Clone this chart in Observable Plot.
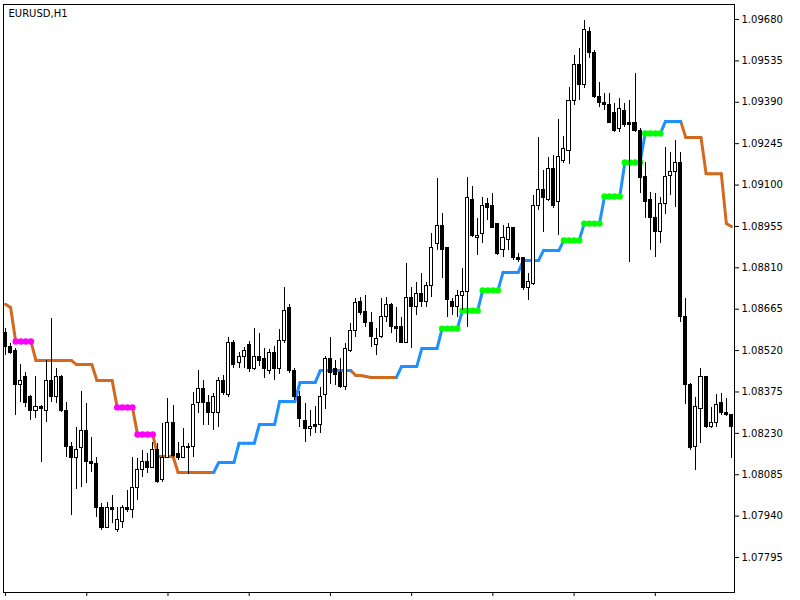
<!DOCTYPE html>
<html><head><meta charset="utf-8">
<script src="https://cdn.jsdelivr.net/npm/d3@7"></script>
<script src="https://cdn.jsdelivr.net/npm/@observablehq/plot@0.6"></script>
<style>html,body{margin:0;padding:0;background:#fff;} #chart{width:800px;height:600px;}</style>
</head><body><div id="chart"></div>
<script>
const title = "EURUSD,H1";

const open = [
1.08580,1.08534,1.08520,1.08398,1.08426,1.08359,1.08310,1.08321,1.08310,1.08412,
1.08356,1.08429,1.08307,1.08181,1.08145,1.08177,1.08237,1.08128,1.08124,1.07970,
1.07900,1.07967,1.07890,1.07918,1.07970,1.07960,1.08040,1.08103,1.08128,1.08110,
1.08170,1.08065,1.08145,1.08268,1.08156,1.08145,1.08181,1.08181,1.08335,1.08384,
1.08338,1.08303,1.08303,1.08415,1.08363,1.08548,1.08478,1.08496,1.08538,1.08457,
1.08499,1.08492,1.08450,1.08513,1.08457,1.08555,1.08668,1.08450,1.08359,1.08275,
1.08247,1.08261,1.08258,1.08363,1.08492,1.08457,1.08440,1.08391,1.08520,1.08590,
1.08689,1.08654,1.08618,1.08538,1.08566,1.08636,1.08678,1.08604,1.08604,1.08548,
1.08703,1.08671,1.08720,1.08689,1.08748,1.08892,1.08955,1.08878,1.08689,1.08671,
1.08713,1.08727,1.09049,1.08913,1.08930,1.09035,1.09025,1.08965,1.08871,1.08906,
1.08948,1.08843,1.08843,1.08738,1.08755,1.09025,1.09084,1.09049,1.09155,1.09042,
1.09186,1.09221,1.09396,1.09519,1.09449,1.09635,1.09564,1.09410,1.09386,1.09379,
1.09354,1.09298,1.09361,1.09316,1.09316,1.09291,1.09127,1.09049,1.08983,1.08937,
1.09035,1.09130,1.09144,1.09179,1.08636,1.08401,1.08181,1.08317,1.08426,1.08251,
1.08265,1.08335,1.08300,1.08293];
const high = [
1.08597,1.08545,1.08527,1.08471,1.08443,1.08363,1.08429,1.08328,1.08485,1.08633,
1.08457,1.08433,1.08338,1.08198,1.08251,1.08377,1.08335,1.08216,1.08145,1.07984,
1.07988,1.08012,1.07970,1.07977,1.08030,1.08145,1.08142,1.08170,1.08159,1.08198,
1.08195,1.08265,1.08352,1.08328,1.08198,1.08247,1.08195,1.08373,1.08450,1.08415,
1.08363,1.08370,1.08426,1.08433,1.08566,1.08555,1.08513,1.08531,1.08552,1.08597,
1.08580,1.08527,1.08524,1.08534,1.08594,1.08741,1.08682,1.08457,1.08377,1.08335,
1.08310,1.08324,1.08391,1.08499,1.08566,1.08485,1.08492,1.08545,1.08615,1.08703,
1.08706,1.08713,1.08654,1.08597,1.08703,1.08706,1.08685,1.08671,1.08636,1.08825,
1.08741,1.08759,1.08790,1.08759,1.08930,1.09123,1.09000,1.08878,1.08703,1.08731,
1.08808,1.09127,1.09095,1.08983,1.09056,1.09053,1.09070,1.08965,1.08958,1.08965,
1.08951,1.08860,1.08846,1.08790,1.09063,1.09267,1.09151,1.09197,1.09204,1.09330,
1.09270,1.09442,1.09554,1.09579,1.09677,1.09652,1.09571,1.09459,1.09421,1.09421,
1.09386,1.09403,1.09386,1.09396,1.09491,1.09298,1.09179,1.09074,1.09070,1.09056,
1.09232,1.09214,1.09256,1.09214,1.08703,1.08405,1.08356,1.08457,1.08429,1.08321,
1.08366,1.08370,1.08352,1.08296];
const low = [
1.08503,1.08506,1.08293,1.08338,1.08321,1.08275,1.08282,1.08128,1.08268,1.08338,
1.08335,1.08303,1.08145,1.07942,1.08033,1.08040,1.08054,1.08093,1.07935,1.07890,
1.07897,1.07914,1.07883,1.07897,1.07953,1.07932,1.07995,1.08075,1.08089,1.08107,
1.08054,1.08058,1.08142,1.08145,1.08135,1.08142,1.08086,1.08145,1.08300,1.08258,
1.08258,1.08240,1.08251,1.08363,1.08356,1.08457,1.08457,1.08457,1.08443,1.08450,
1.08464,1.08422,1.08436,1.08415,1.08436,1.08545,1.08440,1.08345,1.08251,1.08198,
1.08219,1.08230,1.08230,1.08314,1.08401,1.08398,1.08387,1.08380,1.08513,1.08566,
1.08643,1.08601,1.08531,1.08503,1.08562,1.08618,1.08580,1.08548,1.08545,1.08545,
1.08527,1.08643,1.08671,1.08671,1.08706,1.08871,1.08773,1.08636,1.08643,1.08636,
1.08661,1.08601,1.08916,1.08853,1.08895,1.08976,1.08948,1.08853,1.08846,1.08871,
1.08836,1.08829,1.08731,1.08696,1.08748,1.09011,1.08934,1.09042,1.09018,1.08923,
1.09176,1.09172,1.09379,1.09396,1.09438,1.09543,1.09403,1.09372,1.09361,1.09316,
1.09284,1.09284,1.09302,1.08829,1.09284,1.09070,1.08983,1.08871,1.08846,1.08895,
1.08997,1.09063,1.09021,1.08618,1.08331,1.08170,1.08100,1.08195,1.08247,1.08247,
1.08251,1.08293,1.08289,1.08142];
const close = [
1.08531,1.08513,1.08398,1.08412,1.08338,1.08310,1.08321,1.08314,1.08412,1.08356,
1.08429,1.08307,1.08181,1.08145,1.08170,1.08237,1.08128,1.08124,1.07970,1.07897,
1.07967,1.07963,1.07925,1.07970,1.07960,1.08040,1.08103,1.08128,1.08110,1.08170,
1.08058,1.08145,1.08268,1.08152,1.08145,1.08181,1.08177,1.08331,1.08384,1.08335,
1.08303,1.08356,1.08415,1.08370,1.08548,1.08468,1.08496,1.08520,1.08457,1.08499,
1.08485,1.08454,1.08513,1.08457,1.08555,1.08660,1.08450,1.08359,1.08279,1.08247,
1.08254,1.08254,1.08359,1.08492,1.08440,1.08433,1.08391,1.08527,1.08590,1.08685,
1.08650,1.08615,1.08566,1.08562,1.08636,1.08678,1.08601,1.08597,1.08548,1.08703,
1.08671,1.08720,1.08689,1.08748,1.08881,1.08955,1.08871,1.08696,1.08671,1.08710,
1.08727,1.09053,1.08923,1.08923,1.09028,1.09021,1.08951,1.08860,1.08913,1.08948,
1.08843,1.08836,1.08738,1.08759,1.09028,1.09081,1.09053,1.09155,1.09028,1.09197,
1.09228,1.09396,1.09519,1.09449,1.09642,1.09564,1.09407,1.09389,1.09379,1.09319,
1.09291,1.09365,1.09309,1.09309,1.09291,1.09123,1.09042,1.08983,1.08937,1.09032,
1.09127,1.09144,1.09179,1.08636,1.08398,1.08177,1.08321,1.08426,1.08251,1.08265,
1.08331,1.08300,1.08293,1.08251];

// step trailing line, one value per bar
const stepLine = [
1.08682,1.08671,1.08552,1.08552,1.08552,1.08552,1.08485,1.08485,1.08485,1.08485,
1.08485,1.08485,1.08485,1.08485,1.08471,1.08471,1.08471,1.08471,1.08415,1.08415,
1.08415,1.08415,1.08321,1.08321,1.08321,1.08321,1.08226,1.08226,1.08226,1.08226,
1.08149,1.08149,1.08149,1.08149,1.08093,1.08093,1.08093,1.08093,1.08093,1.08093,
1.08093,1.08093,1.08128,1.08128,1.08128,1.08128,1.08195,1.08195,1.08195,1.08195,
1.08261,1.08261,1.08261,1.08261,1.08342,1.08342,1.08342,1.08342,1.08408,1.08408,
1.08408,1.08408,1.08450,1.08450,1.08450,1.08450,1.08450,1.08450,1.08450,1.08433,
1.08433,1.08429,1.08426,1.08426,1.08426,1.08426,1.08426,1.08426,1.08464,1.08464,
1.08464,1.08464,1.08527,1.08527,1.08527,1.08527,1.08597,1.08597,1.08597,1.08597,
1.08660,1.08660,1.08660,1.08660,1.08731,1.08731,1.08731,1.08731,1.08794,1.08794,
1.08794,1.08794,1.08836,1.08836,1.08836,1.08836,1.08871,1.08871,1.08871,1.08871,
1.08906,1.08906,1.08906,1.08906,1.08965,1.08965,1.08965,1.08965,1.09060,1.09060,
1.09060,1.09060,1.09179,1.09179,1.09179,1.09179,1.09281,1.09281,1.09281,1.09281,
1.09323,1.09323,1.09323,1.09323,1.09267,1.09267,1.09267,1.09267,1.09140,1.09140,
1.09140,1.09140,1.08965,1.08955];

// d = falling (orange), u = rising (blue)
const trend = [
"dddddddddd","dddddddddd","dddddddddd","dddddddddd","dduuuuuuuu",
"uuuuuuuuuu","uuuuuuuuud","dddddddduu","uuuuuuuuuu","uuuuuuuuuu",
"uuuuuuuuuu","uuuuuuuuuu","uuuuuuuuuu","uuuudddddd","dddd"].join("").split("");

// m = magenta dots, l = lime dots, - = none
const signal = [
"--mmmm----","----------","--mmmmmmmm","----------","----------",
"----------","----------","----------","------llll","llllllll--",
"----------","llllllllll","llllllllll","----------","----"].join("").split("");

const priceTicks = [1.07795,1.07940,1.08085,1.08230,1.08375,1.08520,1.08665,1.08810,1.08955,1.09100,1.09245,1.09390,1.09535,1.09680];
const timeTickBars = [0,16,32,48,64,80,96,112,128];

const colors = {d: "#D2691E", u: "#1E90FF", m: "#FF00FF", l: "#00FF00"};

const bars = open.map((o, i) => ({i, open: o, high: high[i], low: low[i], close: close[i], line: stepLine[i], trend: trend[i], signal: signal[i]}));
const bull = bars.filter(d => d.close >= d.open);
const bear = bars.filter(d => d.close < d.open);
const segs = bars.slice(1).map(b => ({i0: b.i - 1, v0: stepLine[b.i - 1], i1: b.i, v1: b.line, trend: b.trend}));
const segsDown = segs.filter(s => s.trend === "d");
const segsUp = segs.filter(s => s.trend === "u");
const dotsM = bars.filter(d => d.signal === "m");
const dotsL = bars.filter(d => d.signal === "l");

const halfBody = 0.3;

const chart = Plot.plot({
  width: 800,
  height: 600,
  marginLeft: 3,
  marginRight: 66,
  marginTop: 4,
  marginBottom: 8,
  style: {background: "white", fontFamily: "'DejaVu Sans', sans-serif", fontSize: "10px", color: "black", overflow: "visible"},
  x: {type: "linear", domain: [-0.4, 143.6], axis: "bottom", ticks: timeTickBars, tickSize: 4, tickFormat: () => "", label: null},
  y: {type: "linear", domain: [1.076724, 1.097326], axis: "right", ticks: priceTicks, tickFormat: d => d3.format(".5f")(d), tickSize: 4, tickPadding: 3, label: null},
  marks: [
    Plot.link(segsDown, {x1: "i0", y1: "v0", x2: "i1", y2: "v1", stroke: colors.d, strokeWidth: 3, strokeLinecap: "round"}),
    Plot.link(segsUp, {x1: "i0", y1: "v0", x2: "i1", y2: "v1", stroke: colors.u, strokeWidth: 3, strokeLinecap: "round"}),
    Plot.dot(dotsM, {x: "i", y: "line", r: 3.2, fill: colors.m, stroke: "none"}),
    Plot.dot(dotsL, {x: "i", y: "line", r: 3.2, fill: colors.l, stroke: "none"}),
    Plot.ruleX(bars, {x: "i", y1: "low", y2: "high", stroke: "black", strokeWidth: 1, shapeRendering: "crispEdges"}),
    Plot.rect(bull, {x1: d => d.i - halfBody, x2: d => d.i + halfBody, y1: "open", y2: "close", fill: "white", stroke: "black", strokeWidth: 1, shapeRendering: "crispEdges"}),
    Plot.rect(bear, {x1: d => d.i - halfBody, x2: d => d.i + halfBody, y1: "open", y2: "close", fill: "black", stroke: "black", strokeWidth: 1, shapeRendering: "crispEdges"}),
    Plot.frame({stroke: "black", strokeWidth: 1}),
    Plot.text([title], {frameAnchor: "top-left", dx: 5, dy: 5, text: d => d, fontSize: 10, fill: "black"})
  ]
});
document.getElementById("chart").append(chart);
</script>
</body></html>
